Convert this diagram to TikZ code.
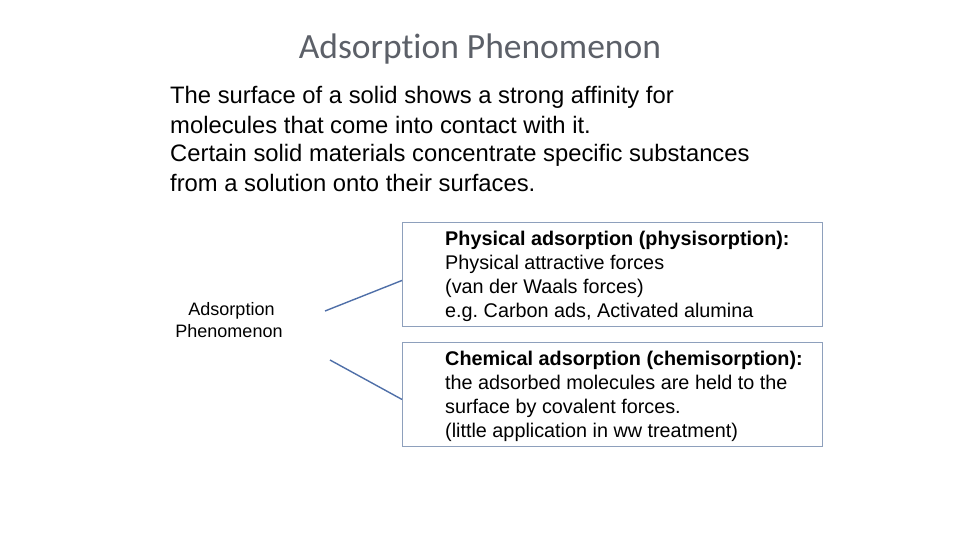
\documentclass[tikz,border=0pt]{standalone}
\usepackage{fontspec}
\setmainfont{Liberation Sans}
\newfontfamily\titlefont[Ligatures=NoCommon]{Carlito}
\frenchspacing
\definecolor{boxline}{HTML}{8EA0BC}
\definecolor{linkblue}{HTML}{4F6FA8}
\definecolor{titlegray}{HTML}{5C6068}
\tikzset{
	infobox/.style={draw=boxline, line width=0.9pt, minimum width=420pt, minimum height=104pt, inner sep=0pt},
	boxtext/.style={align=left, inner sep=0pt, anchor=base west, font=\fontsize{19.8}{24}\selectfont},
	link/.style={draw=linkblue, line width=1.4pt}
}
\begin{document}
\begin{tikzpicture}[x=1pt, y=-1pt]
	\useasboundingbox (0,0) rectangle (960,540);
	\node (title) [anchor=base, inner sep=0pt, text=titlegray, font=\titlefont\fontsize{35.5}{40}\selectfont] at (480,59) {Adsorption Phenomenon};
	% base anchor sits on the last line
	\node (intro) [align=left, inner sep=0pt, anchor=base west, font=\fontsize{23.8}{29}\selectfont] at (170,191) {The surface of a solid shows a strong affinity for\\molecules that come into contact with it.\\Certain solid materials concentrate specific substances\\from a solution onto their surfaces.};
	\node (lbl) [align=center, inner sep=0pt, anchor=base, font=\fontsize{18}{22}\selectfont] at (229,337) {\ Adsorption\\Phenomenon};
	\node (phys) [infobox, anchor=north west] at (402,222) {};
	\node (chem) [infobox, anchor=north west] at (402,342) {};
	\node (physt) [boxtext] at (445,317) {\textbf{Physical adsorption (physisorption):}\\Physical attractive forces\\(van der Waals forces)\\e.g. Carbon ads, Activated alumina};
	\node (chemt) [boxtext] at (445,437) {\textbf{Chemical adsorption (chemisorption):}\\the adsorbed molecules are held to the\\surface by covalent forces.\\(little application in ww treatment)};
	\coordinate (up) at (325,311);
	\coordinate (down) at (330,360);
	\draw [link] (up) -- ([yshift=-6pt]phys.west);
	\draw [link] (down) -- ([yshift=-5pt]chem.west);
\end{tikzpicture}
\end{document}
